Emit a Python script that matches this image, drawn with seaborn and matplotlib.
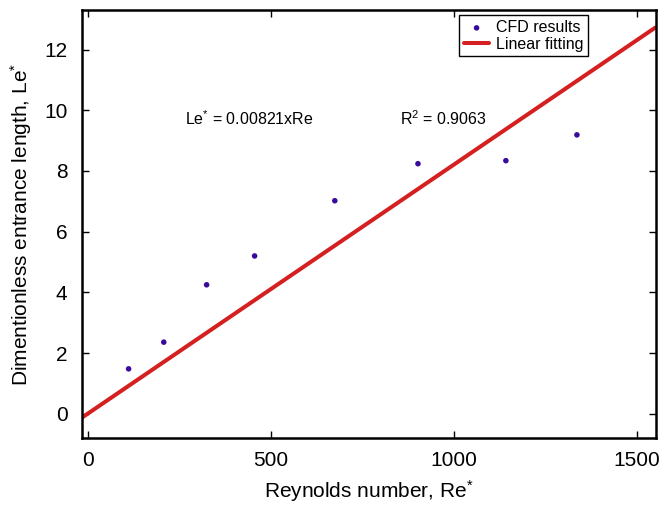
import numpy as np
import pandas as pd
import seaborn as sns
import matplotlib.pyplot as plt

# CFD results
re_cfd = [112, 208, 325, 456, 675, 902, 1142, 1336]
le_cfd = [1.48, 2.36, 4.25, 5.20, 7.02, 8.24, 8.34, 9.19]

# linear fit Le* = 0.00821 x Re
slope = 0.00821
re_fit = [-15, 1550]
le_fit = [slope * r for r in re_fit]

df_cfd = pd.DataFrame({'Re': re_cfd, 'Le': le_cfd})
df_fit = pd.DataFrame({'Re': re_fit, 'Le': le_fit})

sns.set_style('ticks')
plt.rcParams['font.family'] = ['Liberation Sans', 'DejaVu Sans']
plt.rcParams['mathtext.fontset'] = 'custom'
plt.rcParams['mathtext.rm'] = 'Liberation Sans'
plt.rcParams['mathtext.it'] = 'Liberation Sans:italic'
plt.rcParams['mathtext.default'] = 'regular'
plt.rcParams['text.color'] = 'black'
plt.rcParams['axes.labelcolor'] = 'black'
plt.rcParams['xtick.color'] = 'black'
plt.rcParams['ytick.color'] = 'black'
plt.rcParams['axes.edgecolor'] = 'black'

fig, ax = plt.subplots(figsize=(6.62, 5.07), dpi=100)

sns.scatterplot(data=df_cfd, x='Re', y='Le', color='#3a0a9c', s=16, edgecolor='none',
                label='CFD results', ax=ax, zorder=3)
sns.lineplot(data=df_fit, x='Re', y='Le', color='#d42020', linewidth=2.9,
             label='Linear fitting', ax=ax, zorder=2)

ax.text(265, 9.5, r'Le$^{*}$ = 0.00821xRe', fontsize=11.5)
ax.text(852, 9.5, r'R$^{2}$ = 0.9063', fontsize=11.5)

ax.set_xlim(-15, 1552)
ax.set_ylim(-0.8, 13.3)
ax.set_xticks([0, 500, 1000, 1500])
ax.set_yticks([0, 2, 4, 6, 8, 10, 12])
ax.tick_params(direction='in', top=True, right=True, labelsize=15, length=5, width=1)
ax.tick_params(axis='x', pad=9.5)
ax.tick_params(axis='y', pad=10.5)
for sp in ax.spines.values():
    sp.set_linewidth(1.8)
    sp.set_visible(True)

ax.set_xlabel(r'Reynolds number, Re$^{*}$', fontsize=15, labelpad=6)
ax.set_ylabel(r'Dimentionless entrance length, Le$^{*}$', fontsize=15, labelpad=7.5)

leg = ax.legend(loc='upper right', bbox_to_anchor=(0.8815, 0.988), fontsize=11.5,
                fancybox=False, edgecolor='black', framealpha=1,
                handlelength=1.6, handletextpad=0.4, borderpad=0.3,
                labelspacing=0.1, borderaxespad=0)
leg.get_frame().set_linewidth(1.0)

plt.subplots_adjust(left=0.124, right=0.991, top=0.98, bottom=0.136)

plt.savefig('out.png', dpi=100)
